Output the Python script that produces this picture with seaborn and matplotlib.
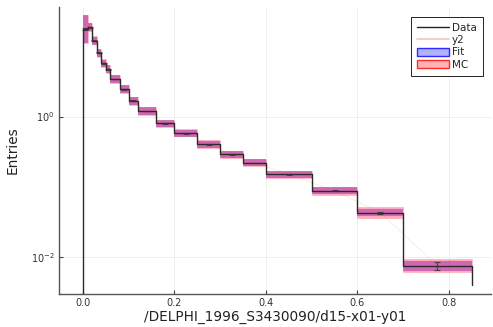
import numpy as np
import matplotlib
matplotlib.use("Agg")
import matplotlib.pyplot as plt
import seaborn as sns
from matplotlib.patches import Patch
from matplotlib.lines import Line2D

# ---- data ----
edges = [0.0, 0.01, 0.02, 0.03, 0.04, 0.05, 0.06, 0.08, 0.10, 0.12, 0.16,
         0.20, 0.25, 0.30, 0.35, 0.40, 0.50, 0.60, 0.70, 0.85]
data_vals = [17.6, 18.8, 12.0, 8.1, 5.7, 4.7, 3.42, 2.45, 1.68, 1.19, 0.80,
             0.576, 0.402, 0.29, 0.22, 0.150, 0.0879, 0.0428, 0.0075]
data_err = [0.4, 0.3, 0.2, 0.12, 0.08, 0.06, 0.04, 0.025, 0.015, 0.01, 0.007,
            0.005, 0.003, 0.002, 0.0015, 0.001, 0.0008, 0.0012, 0.0009]
data_end = 0.0040
fit_vals = [17.6, 18.8, 12.0, 8.1, 5.7, 4.7, 3.42, 2.45, 1.68, 1.19, 0.80,
            0.576, 0.402, 0.29, 0.22, 0.150, 0.0879, 0.0428, 0.0075]
fit_dex = [0.20, 0.05, 0.055, 0.055, 0.055, 0.055, 0.055, 0.055, 0.055, 0.055,
           0.05, 0.05, 0.05, 0.05, 0.05, 0.05, 0.05, 0.053, 0.07]
mc_vals = [17.6, 18.8, 12.3, 8.1, 5.8, 4.7, 3.42, 2.45, 1.68, 1.19, 0.80,
           0.59, 0.41, 0.29, 0.22, 0.150, 0.0879, 0.0428, 0.0075]
mc_dex = [0.20, 0.05, 0.055, 0.055, 0.055, 0.055, 0.055, 0.055, 0.055, 0.055,
          0.05, 0.055, 0.055, 0.05, 0.05, 0.05, 0.055, 0.076, 0.092]
y2_vals = mc_vals
x_ticks = [0.0, 0.2, 0.4, 0.6, 0.8]
y_ticks = [1e-2, 1e0]
xlabel = "/DELPHI_1996_S3430090/d15-x01-y01"
ylabel = "Entries"

sns.set_theme(style="white")
plt.rcParams['font.family'] = ['DejaVu Sans']

fig = plt.figure(figsize=(4.93, 3.27), dpi=100)
ax = fig.add_axes([59/493, 33/327, 432/493, 287/327])
ax.set_yscale("log")

e = np.array(edges)
left = e[:-1]
widths = np.diff(e)
centers = left + widths / 2

# Fit band (blue) and MC band (red)
fv = np.array(fit_vals); fd = np.array(fit_dex)
mv = np.array(mc_vals); md = np.array(mc_dex)
ax.bar(left, fv * 10**fd - fv * 10**-fd, bottom=fv * 10**-fd, width=widths,
       align="edge", color=(0.25, 0.0, 0.8, 0.4), edgecolor="none", linewidth=0, zorder=2)
ax.bar(left, mv * 10**md - mv * 10**-md, bottom=mv * 10**-md, width=widths,
       align="edge", color=(1, 0.1, 0.35, 0.38), edgecolor=(1, 0.2, 0.2, 0.2), linewidth=0.6, zorder=3)

# y2 faint line through bin centres
sns.lineplot(x=centers, y=y2_vals, ax=ax, color="#e26f46", alpha=0.12, linewidth=0.8,
             sort=False, zorder=3)

# data step line
dv = np.array(data_vals)
sx = np.concatenate([[e[0]], np.repeat(e[1:-1], 2), [e[-1], e[-1]]])
sx = np.concatenate([[e[0]], sx])
sy = np.concatenate([[1e-4], np.repeat(dv, 2), [data_end]])
ax.plot(sx, sy, color="#2a2a2a", linewidth=1.0, zorder=4)

# data error bars
ax.errorbar(centers, dv, yerr=np.array(data_err), fmt="none", ecolor="#333333",
            elinewidth=0.8, capsize=2.5, capthick=0.8, alpha=0.8, zorder=5)

ax.set_xlim(-0.0525, 0.892)
ax.set_ylim(10**-2.526, 10**1.559)
ax.set_xticks(x_ticks)
ax.set_xticklabels([f"{t:.1f}" for t in x_ticks])
ax.set_yticks(y_ticks)
ax.yaxis.set_minor_locator(matplotlib.ticker.NullLocator())
ax.tick_params(axis="both", which="major", direction="in", length=3, width=0.8,
               labelsize=7, colors="#444444", labelcolor="#333333", pad=3,
               left=True, bottom=True)
ax.grid(True, color="#ececec", linewidth=0.6)
for s in ["top", "right"]:
    ax.spines[s].set_visible(False)
for s in ["left", "bottom"]:
    ax.spines[s].set_color("#555555")
    ax.spines[s].set_linewidth(1.0)
ax.set_xlabel(xlabel, fontsize=9.8, color="#222222", labelpad=1)
ax.set_ylabel(ylabel, fontsize=9.8, color="#222222", labelpad=8)

handles = [
    Line2D([0], [0], color="#222222", linewidth=1.0),
    Line2D([0], [0], color="#e26f46", alpha=0.4, linewidth=1.2),
    Patch(facecolor=(0, 0, 1, 0.3), edgecolor=(0, 0, 1, 0.8), linewidth=1.0),
    Patch(facecolor=(1, 0, 0, 0.3), edgecolor=(1, 0, 0, 0.8), linewidth=1.0),
]
leg = ax.legend(handles, ["Data", "y2", "Fit", "MC"], loc="upper right",
                bbox_to_anchor=(0.981, 0.965), borderaxespad=0, fontsize=7.5, frameon=True,
                fancybox=False, framealpha=1, edgecolor="#222222",
                handlelength=3.0, handleheight=0.9, labelspacing=0.2,
                borderpad=0.6, handletextpad=0.3)
leg.get_frame().set_linewidth(0.7)

fig.savefig("out.png", dpi=100)
